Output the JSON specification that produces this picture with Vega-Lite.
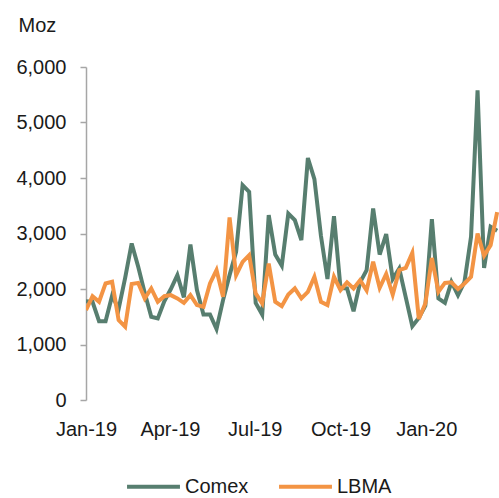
{
  "$schema": "https://vega.github.io/schema/vega-lite/v6.json",
  "width": 413,
  "height": 333,
  "autosize": {"type": "none"},
  "padding": {"left": 86, "top": 67, "right": 0, "bottom": 98},
  "background": "white",
  "config": {
    "view": {"stroke": null},
    "font": "Liberation Sans",
    "axis": {"labelFont": "Liberation Sans", "labelFontSize": 20, "labelColor": "#1a1a1a", "titleFont": "Liberation Sans", "titleFontWeight": "normal", "titleColor": "#1a1a1a"},
    "legend": {"labelFont": "Liberation Sans", "labelFontSize": 20, "labelColor": "#1a1a1a"}
  },
  "data": {
    "values": [
      {"date":"2019-01-01","series":"Comex","value":1780},{"date":"2019-01-08","series":"Comex","value":1770},{"date":"2019-01-15","series":"Comex","value":1420},{"date":"2019-01-22","series":"Comex","value":1420},{"date":"2019-01-29","series":"Comex","value":1880},{"date":"2019-02-05","series":"Comex","value":1640},{"date":"2019-02-12","series":"Comex","value":2200},{"date":"2019-02-19","series":"Comex","value":2820},{"date":"2019-02-26","series":"Comex","value":2400},{"date":"2019-03-05","series":"Comex","value":1930},{"date":"2019-03-12","series":"Comex","value":1500},{"date":"2019-03-19","series":"Comex","value":1470},{"date":"2019-03-26","series":"Comex","value":1780},{"date":"2019-04-02","series":"Comex","value":2000},{"date":"2019-04-09","series":"Comex","value":2250},{"date":"2019-04-16","series":"Comex","value":1850},{"date":"2019-04-23","series":"Comex","value":2800},{"date":"2019-04-30","series":"Comex","value":1980},{"date":"2019-05-07","series":"Comex","value":1540},{"date":"2019-05-14","series":"Comex","value":1540},{"date":"2019-05-21","series":"Comex","value":1280},{"date":"2019-05-28","series":"Comex","value":1800},{"date":"2019-06-04","series":"Comex","value":2250},{"date":"2019-06-11","series":"Comex","value":2670},{"date":"2019-06-18","series":"Comex","value":3870},{"date":"2019-06-25","series":"Comex","value":3750},{"date":"2019-07-02","series":"Comex","value":1750},{"date":"2019-07-09","series":"Comex","value":1540},{"date":"2019-07-16","series":"Comex","value":3330},{"date":"2019-07-23","series":"Comex","value":2620},{"date":"2019-07-30","series":"Comex","value":2420},{"date":"2019-08-06","series":"Comex","value":3360},{"date":"2019-08-13","series":"Comex","value":3240},{"date":"2019-08-20","series":"Comex","value":2880},{"date":"2019-08-27","series":"Comex","value":4360},{"date":"2019-09-03","series":"Comex","value":3980},{"date":"2019-09-10","series":"Comex","value":2960},{"date":"2019-09-17","series":"Comex","value":2180},{"date":"2019-09-24","series":"Comex","value":3310},{"date":"2019-10-01","series":"Comex","value":2020},{"date":"2019-10-08","series":"Comex","value":2010},{"date":"2019-10-15","series":"Comex","value":1600},{"date":"2019-10-22","series":"Comex","value":2120},{"date":"2019-10-29","series":"Comex","value":2340},{"date":"2019-11-05","series":"Comex","value":3450},{"date":"2019-11-12","series":"Comex","value":2620},{"date":"2019-11-19","series":"Comex","value":2990},{"date":"2019-11-26","series":"Comex","value":2180},{"date":"2019-12-03","series":"Comex","value":2370},{"date":"2019-12-10","series":"Comex","value":1850},{"date":"2019-12-17","series":"Comex","value":1330},{"date":"2019-12-24","series":"Comex","value":1480},{"date":"2019-12-31","series":"Comex","value":1700},{"date":"2020-01-07","series":"Comex","value":3260},{"date":"2020-01-14","series":"Comex","value":1830},{"date":"2020-01-21","series":"Comex","value":1750},{"date":"2020-01-28","series":"Comex","value":2130},{"date":"2020-02-04","series":"Comex","value":1890},{"date":"2020-02-11","series":"Comex","value":2130},{"date":"2020-02-18","series":"Comex","value":2940},{"date":"2020-02-25","series":"Comex","value":5580},{"date":"2020-03-03","series":"Comex","value":2380},{"date":"2020-03-10","series":"Comex","value":3120},{"date":"2020-03-17","series":"Comex","value":3050},
      {"date":"2019-01-01","series":"LBMA","value":1620},{"date":"2019-01-08","series":"LBMA","value":1870},{"date":"2019-01-15","series":"LBMA","value":1770},{"date":"2019-01-22","series":"LBMA","value":2100},{"date":"2019-01-29","series":"LBMA","value":2130},{"date":"2019-02-05","series":"LBMA","value":1440},{"date":"2019-02-12","series":"LBMA","value":1320},{"date":"2019-02-19","series":"LBMA","value":2090},{"date":"2019-02-26","series":"LBMA","value":2110},{"date":"2019-03-05","series":"LBMA","value":1830},{"date":"2019-03-12","series":"LBMA","value":2010},{"date":"2019-03-19","series":"LBMA","value":1770},{"date":"2019-03-26","series":"LBMA","value":1870},{"date":"2019-04-02","series":"LBMA","value":1890},{"date":"2019-04-09","series":"LBMA","value":1830},{"date":"2019-04-16","series":"LBMA","value":1750},{"date":"2019-04-23","series":"LBMA","value":1890},{"date":"2019-04-30","series":"LBMA","value":1710},{"date":"2019-05-07","series":"LBMA","value":1680},{"date":"2019-05-14","series":"LBMA","value":2100},{"date":"2019-05-21","series":"LBMA","value":2340},{"date":"2019-05-28","series":"LBMA","value":1860},{"date":"2019-06-04","series":"LBMA","value":3290},{"date":"2019-06-11","series":"LBMA","value":2250},{"date":"2019-06-18","series":"LBMA","value":2490},{"date":"2019-06-25","series":"LBMA","value":2610},{"date":"2019-07-02","series":"LBMA","value":1920},{"date":"2019-07-09","series":"LBMA","value":1740},{"date":"2019-07-16","series":"LBMA","value":2460},{"date":"2019-07-23","series":"LBMA","value":1770},{"date":"2019-07-30","series":"LBMA","value":1690},{"date":"2019-08-06","series":"LBMA","value":1900},{"date":"2019-08-13","series":"LBMA","value":2010},{"date":"2019-08-20","series":"LBMA","value":1830},{"date":"2019-08-27","series":"LBMA","value":1950},{"date":"2019-09-03","series":"LBMA","value":2220},{"date":"2019-09-10","series":"LBMA","value":1770},{"date":"2019-09-17","series":"LBMA","value":1710},{"date":"2019-09-24","series":"LBMA","value":2220},{"date":"2019-10-01","series":"LBMA","value":1980},{"date":"2019-10-08","series":"LBMA","value":2120},{"date":"2019-10-15","series":"LBMA","value":2010},{"date":"2019-10-22","series":"LBMA","value":2160},{"date":"2019-10-29","series":"LBMA","value":1975},{"date":"2019-11-05","series":"LBMA","value":2490},{"date":"2019-11-12","series":"LBMA","value":2020},{"date":"2019-11-19","series":"LBMA","value":2270},{"date":"2019-11-26","series":"LBMA","value":1900},{"date":"2019-12-03","series":"LBMA","value":2340},{"date":"2019-12-10","series":"LBMA","value":2380},{"date":"2019-12-17","series":"LBMA","value":2650},{"date":"2019-12-24","series":"LBMA","value":1460},{"date":"2019-12-31","series":"LBMA","value":1740},{"date":"2020-01-07","series":"LBMA","value":2560},{"date":"2020-01-14","series":"LBMA","value":1950},{"date":"2020-01-21","series":"LBMA","value":2110},{"date":"2020-01-28","series":"LBMA","value":2120},{"date":"2020-02-04","series":"LBMA","value":2000},{"date":"2020-02-11","series":"LBMA","value":2100},{"date":"2020-02-18","series":"LBMA","value":2220},{"date":"2020-02-25","series":"LBMA","value":3000},{"date":"2020-03-03","series":"LBMA","value":2600},{"date":"2020-03-10","series":"LBMA","value":2790},{"date":"2020-03-17","series":"LBMA","value":3385}
    ]
  },
  "mark": {"type": "line", "strokeWidth": 4, "strokeJoin": "miter", "clip": true},
  "encoding": {
    "x": {
      "field": "date", "type": "temporal",
      "scale": {"type": "utc", "domain": [{"year": 2019, "month": 1, "date": 1, "utc": true}, {"year": 2020, "month": 3, "date": 19, "utc": true}]},
      "axis": {
        "title": null, "domain": false, "ticks": false, "grid": false,
        "format": "%b-%y", "labelPadding": 19, "labelFlush": false,
        "values": [
          {"year": 2019, "month": 1, "date": 1, "utc": true},
          {"year": 2019, "month": 4, "date": 1, "utc": true},
          {"year": 2019, "month": 7, "date": 1, "utc": true},
          {"year": 2019, "month": 10, "date": 1, "utc": true},
          {"year": 2020, "month": 1, "date": 1, "utc": true}
        ]
      }
    },
    "y": {
      "field": "value", "type": "quantitative",
      "scale": {"domain": [0, 6000], "nice": false},
      "axis": {
        "title": "Moz", "titleAngle": 0, "titleAlign": "left", "titleBaseline": "middle",
        "titleX": -68, "titleY": -42, "titleFontSize": 20,
        "values": [0, 1000, 2000, 3000, 4000, 5000, 6000], "format": ",.0f",
        "grid": false, "domainColor": "#a6a6a6", "domainWidth": 1.5,
        "tickColor": "#a6a6a6", "tickWidth": 1.5, "tickSize": 6, "labelPadding": 14
      }
    },
    "color": {
      "field": "series", "type": "nominal",
      "scale": {"domain": ["Comex", "LBMA"], "range": ["#577e6f", "#f39444"]},
      "legend": {
        "title": null, "orient": "none", "direction": "horizontal",
        "legendX": 39, "legendY": 391,
        "symbolType": "stroke", "symbolSize": 2800, "symbolStrokeWidth": 4,
        "labelOffset": 3, "columnPadding": 22
      }
    }
  }
}
